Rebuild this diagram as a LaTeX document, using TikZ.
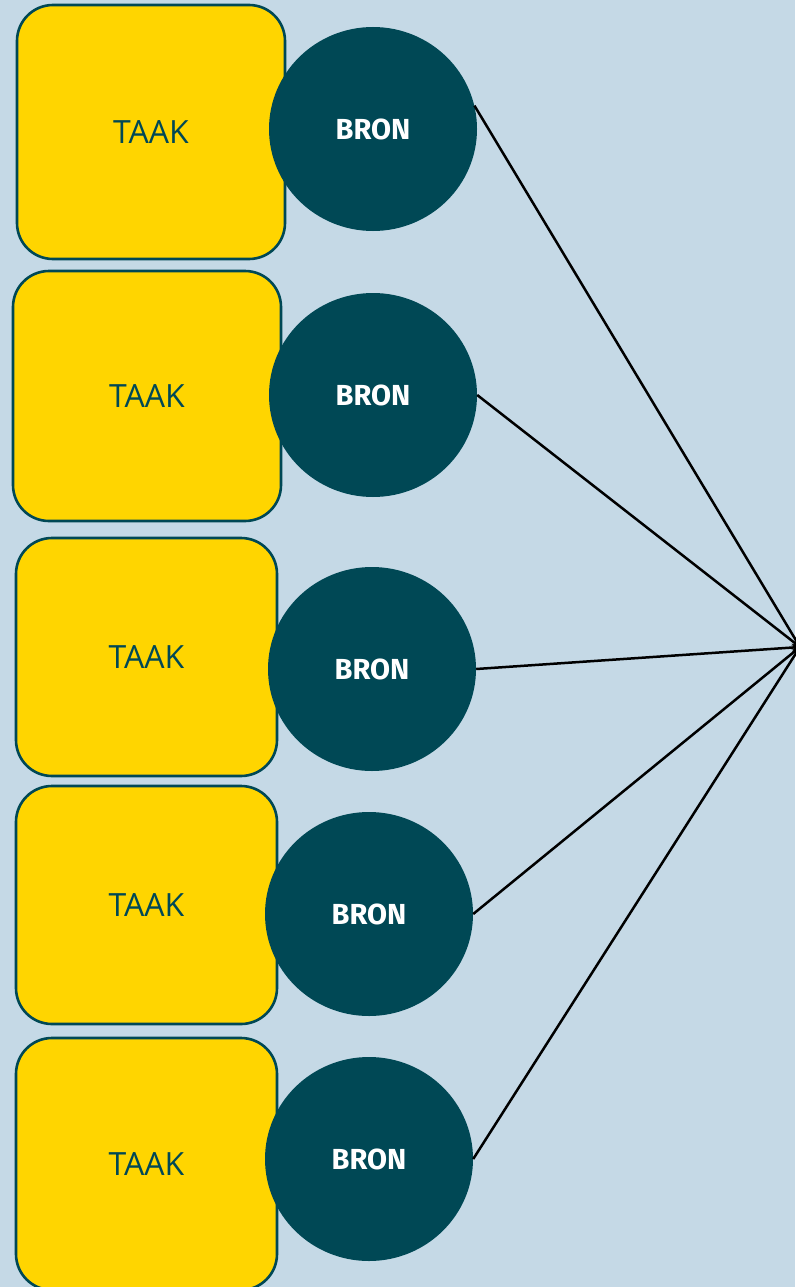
\documentclass[tikz,border=0pt]{standalone}
\usepackage{fontspec}
\setmainfont{Open Sans}
\newfontfamily\bronfont{Fira Sans}
\usetikzlibrary{shapes.geometric}
\definecolor{achter}{HTML}{C5D9E6}
\definecolor{geel}{HTML}{FFD500}
\definecolor{teal}{HTML}{004855}
\tikzset{
	taak/.style={draw=teal, line width=2.6pt, fill=geel, rounded corners=36pt, text=teal, font=\fontsize{32}{38}\selectfont},
	bron/.style={ellipse, fill=teal, inner sep=0pt, minimum width=208pt, minimum height=204pt, text=white, font=\bronfont\bfseries\fontsize{29}{35}\selectfont},
	pijl/.style={->, >=stealth, line width=2.5pt, black}
}

\begin{document}
\begin{tikzpicture}[x=1pt, y=-1pt]
		\fill[achter] (0, 0) rectangle (795, 1287);
		\useasboundingbox (0, 0) rectangle (795, 1287);

		\node[taak, minimum width=268pt, minimum height=254pt] (taak1) at (151, 132) {TAAK};
		\node[taak, minimum width=268pt, minimum height=250pt] (taak2) at (147, 396) {TAAK};
		\node[taak, minimum width=261pt, minimum height=238pt] (taak3) at (146.5, 657) {TAAK};
		\node[taak, minimum width=261pt, minimum height=238pt] (taak4) at (146.5, 905) {TAAK};
		\node[taak, minimum width=261pt, minimum height=252pt] (taak5) at (146.5, 1164) {TAAK};

		\node[bron] (bron1) at (373, 129) {BRON};
		\node[bron] (bron2) at (373, 395) {BRON};
		\node[bron] (bron3) at (372, 669) {BRON};
		\node[bron] (bron4) at (369, 914) {BRON};
		\node[bron] (bron5) at (369, 1159) {BRON};

		\coordinate (doel) at (800, 647);

		\draw[pijl] (bron1.13) -- (doel);
		\draw[pijl] (bron2.east) -- (doel);
		\draw[pijl] (bron3.east) -- (doel);
		\draw[pijl] (bron4.east) -- (doel);
		\draw[pijl] (bron5.east) -- (doel);
	\end{tikzpicture}
\end{document}
